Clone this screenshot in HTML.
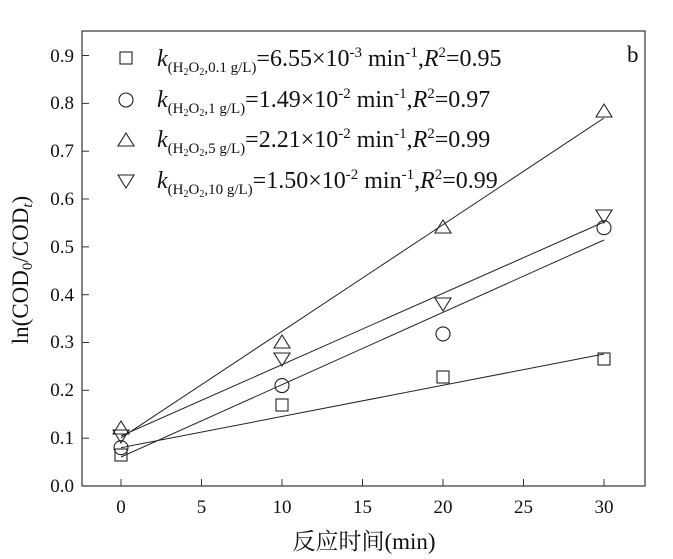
<!DOCTYPE html>
<html><head><meta charset="utf-8"><style>
body{margin:0;background:#fff}
svg{display:block;font-family:"Liberation Serif","Noto Serif CJK SC",serif}
</style></head><body>
<svg width="673" height="559" viewBox="0 0 673 559" xmlns="http://www.w3.org/2000/svg">
<rect x="82" y="31" width="563" height="455" fill="none" stroke="#333" stroke-width="1.2"/>
<g stroke="#333" stroke-width="1">
<line x1="82" y1="486" x2="89" y2="486"/><line x1="82" y1="438.2" x2="89" y2="438.2"/><line x1="82" y1="390.3" x2="89" y2="390.3"/><line x1="82" y1="342.5" x2="89" y2="342.5"/><line x1="82" y1="294.7" x2="89" y2="294.7"/><line x1="82" y1="246.9" x2="89" y2="246.9"/><line x1="82" y1="199" x2="89" y2="199"/><line x1="82" y1="151.2" x2="89" y2="151.2"/><line x1="82" y1="103.4" x2="89" y2="103.4"/><line x1="82" y1="55.5" x2="89" y2="55.5"/>
<line x1="121" y1="486" x2="121" y2="479"/><line x1="201.5" y1="486" x2="201.5" y2="479"/><line x1="282" y1="486" x2="282" y2="479"/><line x1="362.5" y1="486" x2="362.5" y2="479"/><line x1="443" y1="486" x2="443" y2="479"/><line x1="523.5" y1="486" x2="523.5" y2="479"/><line x1="604" y1="486" x2="604" y2="479"/>
</g>
<g font-size="19" text-anchor="end" fill="#111">
<text x="74" y="492">0.0</text><text x="74" y="444">0.1</text><text x="74" y="396">0.2</text><text x="74" y="348">0.3</text><text x="74" y="301">0.4</text><text x="74" y="253">0.5</text><text x="74" y="205">0.6</text><text x="74" y="157">0.7</text><text x="74" y="109">0.8</text><text x="74" y="62">0.9</text>
</g>
<g font-size="19" text-anchor="middle" fill="#111">
<text x="121" y="513">0</text><text x="201.5" y="513">5</text><text x="282" y="513">10</text><text x="362.5" y="513">15</text><text x="443" y="513">20</text><text x="523.5" y="513">25</text><text x="604" y="513">30</text>
</g>
<text x="364" y="549" font-size="23" text-anchor="middle" fill="#111">反应时间(min)</text>
<text transform="translate(28,270) rotate(-90)" font-size="23" text-anchor="middle" fill="#111">ln(COD<tspan font-size="15" dy="4">0</tspan><tspan dy="-4">/COD</tspan><tspan font-size="15" dy="4" font-style="italic">t</tspan><tspan dy="-4">)</tspan></text>
<text x="627" y="62" font-size="23" fill="#111">b</text>
<g stroke="#222" stroke-width="1">
<line x1="121" y1="447.7" x2="604" y2="354"/>
<line x1="121" y1="457" x2="604" y2="240"/>
<line x1="121" y1="438" x2="604" y2="118"/>
<line x1="121" y1="436" x2="604" y2="222"/>
</g>
<g fill="none" stroke="#222" stroke-width="1.1">
<rect x="115" y="449" width="12" height="12"/><rect x="276" y="399" width="12" height="12"/><rect x="437" y="371" width="12" height="12"/><rect x="598" y="353" width="12" height="12"/>
<circle cx="121" cy="447.7" r="7"/><circle cx="282" cy="385.6" r="7"/><circle cx="443" cy="333.9" r="7"/><circle cx="604" cy="227.7" r="7"/>
<path d="M121,421l8,13h-16z"/><path d="M282,335l8,13h-16z"/><path d="M443,220l8,13h-16z"/><path d="M604,104l8,13h-16z"/>
<path d="M121,443l8,-13h-16z"/><path d="M282,366l8,-13h-16z"/><path d="M443,311l8,-13h-16z"/><path d="M604,223l8,-13h-16z"/>
<rect x="120" y="52" width="12" height="12"/>
<circle cx="126" cy="100" r="7"/>
<path d="M126,133l8,13h-16z"/>
<path d="M126,188l8,-13h-16z"/>
</g>
<g font-size="24" fill="#111">
<text x="157" y="66"><tspan font-style="italic">k</tspan><tspan font-size="15" dy="6">(H<tspan font-size="10" dy="3">2</tspan><tspan dy="-3">O</tspan><tspan font-size="10" dy="3">2</tspan><tspan dy="-3">,0.1 g/L)</tspan></tspan><tspan dy="-6">=6.55×10</tspan><tspan font-size="15" dy="-9">-3</tspan><tspan dy="9"> min</tspan><tspan font-size="15" dy="-9">-1</tspan><tspan dy="9">,</tspan><tspan font-style="italic">R</tspan><tspan font-size="15" dy="-9">2</tspan><tspan dy="9">=0.95</tspan></text>
<text x="157" y="107"><tspan font-style="italic">k</tspan><tspan font-size="15" dy="6">(H<tspan font-size="10" dy="3">2</tspan><tspan dy="-3">O</tspan><tspan font-size="10" dy="3">2</tspan><tspan dy="-3">,1 g/L)</tspan></tspan><tspan dy="-6">=1.49×10</tspan><tspan font-size="15" dy="-9">-2</tspan><tspan dy="9"> min</tspan><tspan font-size="15" dy="-9">-1</tspan><tspan dy="9">,</tspan><tspan font-style="italic">R</tspan><tspan font-size="15" dy="-9">2</tspan><tspan dy="9">=0.97</tspan></text>
<text x="157" y="147"><tspan font-style="italic">k</tspan><tspan font-size="15" dy="6">(H<tspan font-size="10" dy="3">2</tspan><tspan dy="-3">O</tspan><tspan font-size="10" dy="3">2</tspan><tspan dy="-3">,5 g/L)</tspan></tspan><tspan dy="-6">=2.21×10</tspan><tspan font-size="15" dy="-9">-2</tspan><tspan dy="9"> min</tspan><tspan font-size="15" dy="-9">-1</tspan><tspan dy="9">,</tspan><tspan font-style="italic">R</tspan><tspan font-size="15" dy="-9">2</tspan><tspan dy="9">=0.99</tspan></text>
<text x="157" y="188"><tspan font-style="italic">k</tspan><tspan font-size="15" dy="6">(H<tspan font-size="10" dy="3">2</tspan><tspan dy="-3">O</tspan><tspan font-size="10" dy="3">2</tspan><tspan dy="-3">,10 g/L)</tspan></tspan><tspan dy="-6">=1.50×10</tspan><tspan font-size="15" dy="-9">-2</tspan><tspan dy="9"> min</tspan><tspan font-size="15" dy="-9">-1</tspan><tspan dy="9">,</tspan><tspan font-style="italic">R</tspan><tspan font-size="15" dy="-9">2</tspan><tspan dy="9">=0.99</tspan></text>
</g>
</svg>
</body></html>
